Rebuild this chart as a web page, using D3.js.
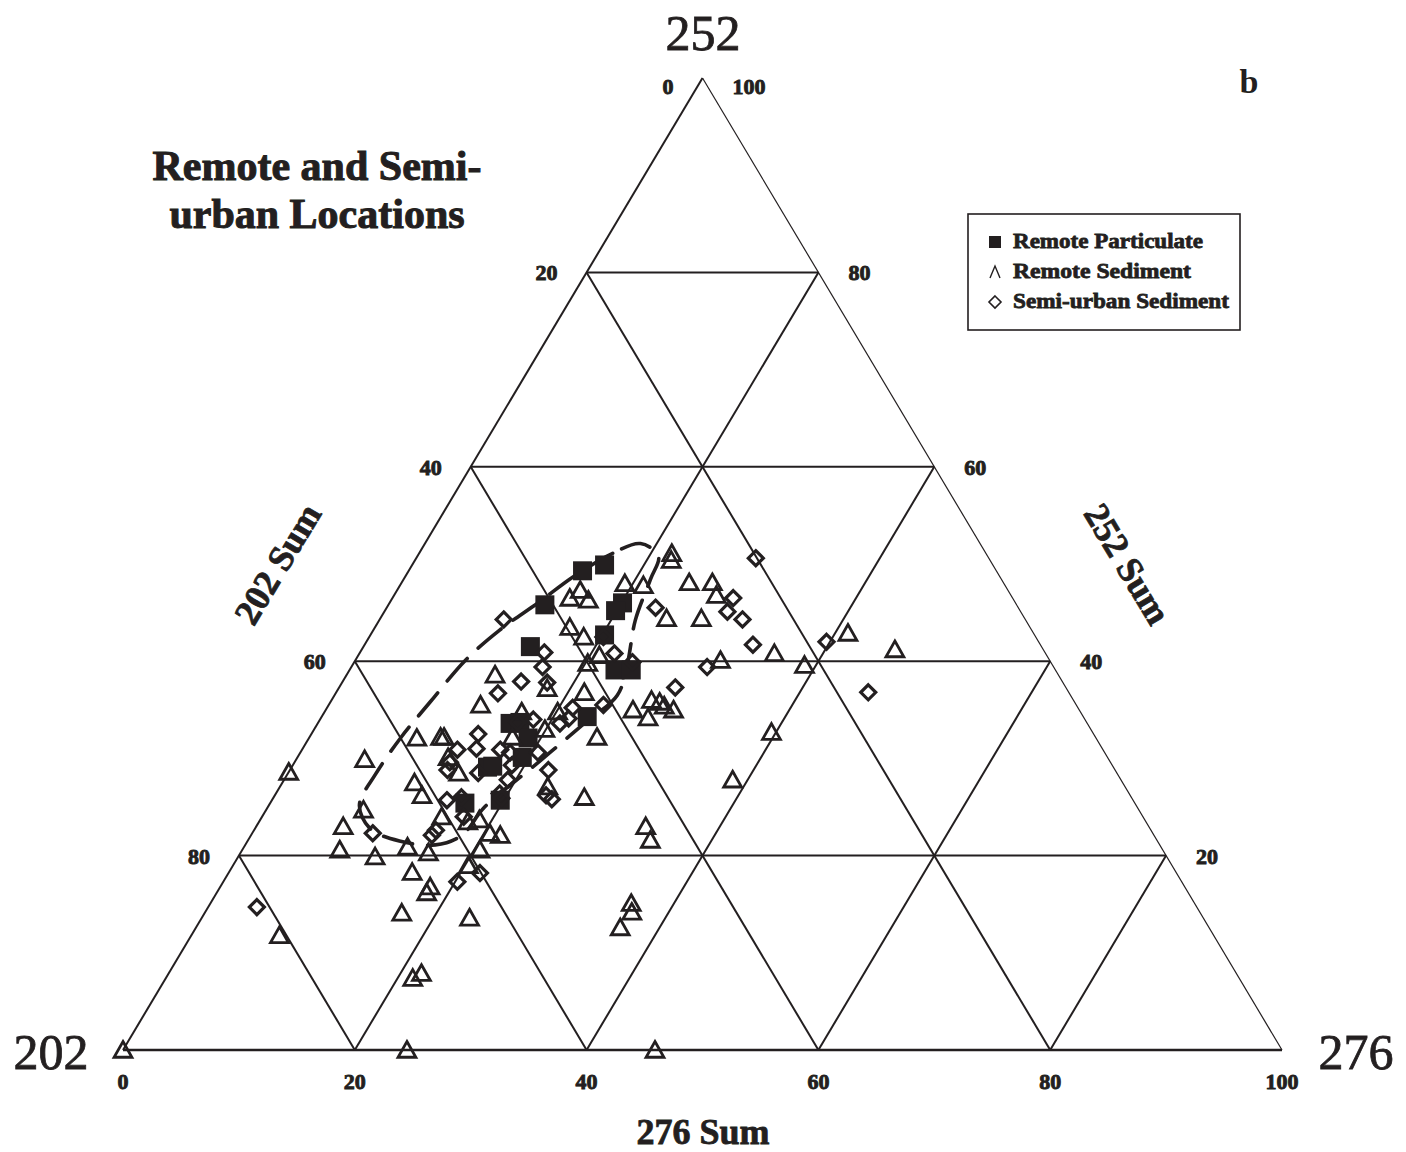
<!DOCTYPE html>
<html>
<head>
<meta charset="utf-8">
<script src="https://cdn.jsdelivr.net/npm/d3@7"></script>
<style>
  html, body { margin: 0; padding: 0; background: #fff; }
  svg { display: block; }
  text { font-family: "Liberation Serif", "Times New Roman", serif; fill: #231f20; }
</style>
</head>
<body>
<svg id="chart" width="1406" height="1152"></svg>
<script>
// Ternary composition (percent). Each point: share of 252 Sum and 276 Sum;
// 202 Sum is the remainder.
const particulate252 = [49.3,49.9,45.8,46.0,45.2,41.5,42.7,39.1,39.1,34.3,33.6,33.7,32.1,30.1,29.1,29.2,25.4,25.7];
const particulate276 = [15.0,16.6,13.5,20.1,19.9,14.4,20.2,22.9,24.3,22.9,16.6,17.4,18.9,19.4,16.9,17.3,16.8,19.7];

const sediment252 = [51.1,50.4,48.0,47.8,48.1,48.1,46.8,44.4,44.4,40.8,39.6,40.1,42.9,41.2,
  47.3,46.5,46.3,43.5,42.5,40.6,39.8,
  38.6,37.2,36.8,35.0,36.0,35.8,35.4,35.0,34.2,
  32.2,32.7,27.8,26.0,23.0,21.6,15.1,14.2,12.6,
  0,0,
  7.4,7.9,13.6,14.1,16.8,16.2,18.3,19.0,20.6,20.3,20.9,
  11.8,28.6,29.9,19.9,20.6,23.0,24.7,
  32.1,27.5,26.2,32.2,32.2,35.5,34.8,33.0,32.2,34.8,
  30.1,28.5,24.0,23.5,23.7,22.3,22.1,
  27.1,0];
const sediment276 = [21.8,22.1,19.3,21.0,24.8,26.8,27.8,24.7,27.7,35.8,39.0,31.5,41.1,46.0,
  15.8,15.3,17.0,16.8,18.5,20.8,20.2,
  12.8,18.0,21.4,26.5,27.6,28.4,29.0,30.0,28.2,
  24.8,39.6,38.7,26.8,33.6,34.7,36.3,36.8,36.6,
  45.9,24.5,
  21.3,21.8,23.1,17.0,18.1,18.1,15.8,20.3,20.5,16.2,14.1,
  7.6,0,5.9,11.8,8.4,7.5,8.4,
  9.3,11.4,12.7,11.3,11.6,13.1,17.0,19.9,17.5,20.1,
  13.0,14.7,15.5,18.0,18.9,20.5,21.5,
  23.1,0];

const semiUrban252 = [50.6,46.5,45.1,44.3,41.7,45.5,44.3,40.9,39.4,37.9,
  37.8,36.7,40.8,39.9,39.4,37.3,35.5,35.2,34.1,33.6,
  34.0,33.7,32.5,31.0,30.9,29.6,28.8,28.5,25.7,26.0,
  24.0,22.1,22.6,22.3,17.3,18.2,30.9,30.6,29.3,27.8,
  26.4,25.9,28.8,26.2,25.8,30.6,42.0,36.8,14.7,42.5];
const semiUrban276 = [29.3,29.4,29.6,31.3,33.5,23.2,10.7,15.9,16.5,15.4,
  17.7,14.0,22.0,24.0,30.7,29.0,23.7,21.2,21.4,20.9,
  18.4,17.2,14.4,15.0,13.4,13.4,13.6,16.4,15.1,16.2,
  17.4,15.6,15.7,10.4,20.2,21.7,17.1,18.1,18.9,19.3,
  19.3,19.7,22.3,23.4,24.1,20.5,39.7,45.9,4.2,20.2];

// Dashed envelope around the particulate cluster
const envelope252 = [52.1,51.1,48.8,46.0,43.2,40.1,35.8,32.1,28.3,25.2,22.8,21.5,21.1,22.1,25.0,29.3,33.6,36.5,39.6,44.2,48.4,50.8];
const envelope276 = [18.6,16.7,14.6,12.8,10.9,9.5,8.6,7.9,7.6,7.8,9.9,13.1,16.4,18.2,18.7,20.9,23.0,24.4,23.7,22.1,21.3,20.8];

const gridTicks = [20, 40, 60, 80];
const axisTicks = [0, 20, 40, 60, 80, 100];
const legendLabels = ["Remote Particulate", "Remote Sediment", "Semi-urban Sediment"];

const ink = "#231f20";
const svg = d3.select("#chart");

// Horizontal position runs with 276 + half of 252; vertical with 252.
const xs = d3.scaleLinear().domain([0, 100]).range([123, 1282]);
const ys = d3.scaleLinear().domain([0, 100]).range([1050, 78]);
const px = (b, c) => xs(c + b / 2);
const py = b => ys(b);

const g = svg.append("g");

// grid lines
const gridSegs = [];
gridTicks.forEach(t => {
  gridSegs.push([[t, 0], [t, 100 - t]]);            // constant 252
  gridSegs.push([[0, t], [100 - t, t]]);            // constant 276
  gridSegs.push([[0, 100 - t], [100 - t, 0]]);      // constant 202
});
g.selectAll("line.grid").data(gridSegs).join("line")
  .attr("class", "grid")
  .attr("x1", d => px(d[0][0], d[0][1])).attr("y1", d => py(d[0][0]))
  .attr("x2", d => px(d[1][0], d[1][1])).attr("y2", d => py(d[1][0]))
  .attr("stroke", ink).attr("stroke-width", 2);

// outer triangle
const edges = [
  {a: [0, 0], b: [0, 100], w: 2.6},     // bottom
  {a: [0, 0], b: [100, 0], w: 2},       // left
  {a: [100, 0], b: [0, 100], w: 1.2}    // right
];
g.selectAll("line.edge").data(edges).join("line")
  .attr("x1", d => px(d.a[0], d.a[1])).attr("y1", d => py(d.a[0]))
  .attr("x2", d => px(d.b[0], d.b[1])).attr("y2", d => py(d.b[0]))
  .attr("stroke", ink).attr("stroke-width", d => d.w);

// tick labels
const tickStyle = sel => sel.attr("font-weight", "bold").attr("font-size", 22)
  .attr("stroke", ink).attr("stroke-width", 0.9).attr("dominant-baseline", "middle");

axisTicks.forEach(t => {
  // bottom: 276 Sum
  tickStyle(g.append("text").attr("x", px(0, t)).attr("y", 1084)
    .attr("text-anchor", "middle").text(t));
  if (t === 0) return;
  // left: 202 Sum, along the left edge
  tickStyle(g.append("text").attr("x", px(t, 0) - 29).attr("y", py(t) + (t === 100 ? 11 : 3))
    .attr("text-anchor", "end").text(100 - t));
  // right: 252 Sum, along the right edge
  tickStyle(g.append("text").attr("x", px(t, 100 - t) + 30).attr("y", py(t) + (t === 100 ? 11 : 3))
    .attr("text-anchor", "start").text(t));
});

// envelope
const envPts = envelope252.map((b, i) => [px(b, envelope276[i]), py(b)]);
g.append("path")
  .attr("d", d3.line().curve(d3.curveCatmullRomClosed.alpha(0.5))(envPts))
  .attr("fill", "none").attr("stroke", ink).attr("stroke-width", 3.6)
  .attr("stroke-dasharray", "30 15").attr("stroke-linecap", "round");

// markers
const triPath = s => `M0,${-s}L${s * 1.05},${s * 0.85}L${-s * 1.05},${s * 0.85}Z`;
const diaPath = s => `M0,${-s}L${s},0L0,${s}L${-s},0Z`;

const toPts = (bs, cs) => bs.map((b, i) => ({b, c: cs[i]}));

g.selectAll("rect.part").data(toPts(particulate252, particulate276)).join("rect")
  .attr("class", "part")
  .attr("x", d => px(d.b, d.c) - 9.5).attr("y", d => py(d.b) - 9.5)
  .attr("width", 19).attr("height", 19).attr("fill", ink);

g.selectAll("path.sed").data(toPts(sediment252, sediment276)).join("path")
  .attr("class", "sed")
  .attr("transform", d => `translate(${px(d.b, d.c)},${py(d.b)})`)
  .attr("d", triPath(8.5))
  .attr("fill", "none").attr("stroke", ink).attr("stroke-width", 2.8).attr("stroke-linejoin", "miter");

g.selectAll("path.semi").data(toPts(semiUrban252, semiUrban276)).join("path")
  .attr("class", "semi")
  .attr("transform", d => `translate(${px(d.b, d.c)},${py(d.b)})`)
  .attr("d", diaPath(7.5))
  .attr("fill", "none").attr("stroke", ink).attr("stroke-width", 3.2);

// vertex labels
const vertexLabel = (x, y, s) => svg.append("text").attr("x", x).attr("y", y)
  .attr("text-anchor", "middle").attr("font-size", 50).attr("stroke", ink).attr("stroke-width", 0.8).text(s);
vertexLabel(703, 50, "252");
vertexLabel(51, 1069, "202");
vertexLabel(1356, 1069, "276");

svg.append("text").attr("x", 1249).attr("y", 93).attr("text-anchor", "middle")
  .attr("font-size", 34).attr("font-weight", "bold").text("b");

// title
const title = svg.append("text").attr("text-anchor", "middle").attr("font-size", 42)
  .attr("font-weight", "bold").attr("stroke", ink).attr("stroke-width", 1);
title.append("tspan").attr("x", 317).attr("y", 180).text("Remote and Semi-");
title.append("tspan").attr("x", 317).attr("y", 228).text("urban Locations");

// axis titles
const axisTitle = (x, y, rot, s) => svg.append("text")
  .attr("transform", `translate(${x},${y}) rotate(${rot})`)
  .attr("text-anchor", "middle").attr("dominant-baseline", "middle")
  .attr("font-size", 36).attr("font-weight", "bold")
  .attr("stroke", ink).attr("stroke-width", 0.8).text(s);
axisTitle(281, 566, -59, "202 Sum");
axisTitle(1124, 566, 59, "252 Sum");
axisTitle(703, 1136, 0, "276 Sum");

// legend
const lg = svg.append("g");
lg.append("rect").attr("x", 968).attr("y", 214).attr("width", 272).attr("height", 116)
  .attr("fill", "#fff").attr("stroke", ink).attr("stroke-width", 1.6);
const ly = [242, 272, 302];
lg.append("rect").attr("x", 989).attr("y", ly[0] - 6).attr("width", 12).attr("height", 12).attr("fill", ink);
lg.append("path").attr("transform", `translate(995,${ly[1]})`)
  .attr("d", "M-5,6L0,-6L5,6").attr("fill", "none").attr("stroke", ink).attr("stroke-width", 1.4);
lg.append("path").attr("transform", `translate(995,${ly[2]})`)
  .attr("d", diaPath(6)).attr("fill", "none").attr("stroke", ink).attr("stroke-width", 1.6);
lg.selectAll("text.leg").data(legendLabels).join("text")
  .attr("class", "leg")
  .attr("x", 1013).attr("y", (d, i) => ly[i] + 1)
  .attr("dominant-baseline", "middle")
  .attr("font-size", 22).attr("font-weight", "bold")
  .attr("stroke", ink).attr("stroke-width", 0.8)
  .attr("textLength", (d, i) => [190, 178, 216][i]).attr("lengthAdjust", "spacingAndGlyphs")
  .text(d => d);
</script>
</body>
</html>
